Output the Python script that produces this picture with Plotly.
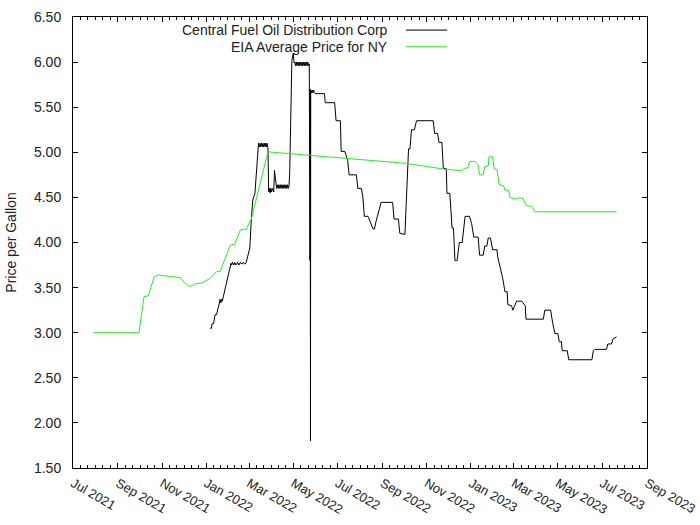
import plotly.graph_objects as go
import pandas as pd
import numpy as np

# ---------------- data ----------------
series_names = ["Central Fuel Oil Distribution Corp", "EIA Average Price for NY"]

cfo_dates = [
    "2022-01-06", "2022-01-08", "2022-01-09", "2022-01-11", "2022-01-13", "2022-01-15",
    "2022-01-19", "2022-01-20", "2022-01-21", "2022-01-22", "2022-01-23", "2022-01-31",
    "2022-02-02", "2022-02-04", "2022-02-05", "2022-02-06", "2022-02-08", "2022-02-09",
    "2022-02-11", "2022-02-13", "2022-02-15", "2022-02-17", "2022-02-19", "2022-02-21",
    "2022-02-23", "2022-02-25", "2022-02-27", "2022-03-02", "2022-03-04", "2022-03-06",
    "2022-03-09", "2022-03-13", "2022-03-14", "2022-03-15", "2022-03-16", "2022-03-17",
    "2022-03-18", "2022-03-19", "2022-03-20", "2022-03-21", "2022-03-22", "2022-03-23",
    "2022-03-24", "2022-03-25", "2022-03-26", "2022-03-27", "2022-03-28",
    "2022-03-29", "2022-03-30", "2022-03-31", "2022-04-01", "2022-04-02", "2022-04-03",
    "2022-04-04", "2022-04-05", "2022-04-07", "2022-04-08", "2022-04-09", "2022-04-10",
    "2022-04-11", "2022-04-12", "2022-04-13", "2022-04-14", "2022-04-15", "2022-04-16",
    "2022-04-17", "2022-04-18", "2022-04-19", "2022-04-20", "2022-04-21", "2022-04-22",
    "2022-04-23", "2022-04-24", "2022-04-25", "2022-04-26", "2022-04-27",
    "2022-04-28", "2022-04-29", "2022-05-01", "2022-05-02", "2022-05-03", "2022-05-04",
    "2022-05-05", "2022-05-06", "2022-05-07", "2022-05-08", "2022-05-09", "2022-05-10",
    "2022-05-11", "2022-05-12", "2022-05-13", "2022-05-14", "2022-05-15", "2022-05-16",
    "2022-05-17", "2022-05-18", "2022-05-19", "2022-05-20", "2022-05-21", "2022-05-22",
    "2022-05-23", "2022-05-24 00:00", "2022-05-24 08:00", "2022-05-24 16:00",
    "2022-05-25", "2022-05-26", "2022-05-27", "2022-05-28", "2022-05-29", "2022-05-30",
    "2022-06-01", "2022-06-13", "2022-06-14", "2022-06-27",
    "2022-06-29", "2022-07-05", "2022-07-06", "2022-07-11", "2022-07-15", "2022-07-17",
    "2022-07-27", "2022-07-29", "2022-08-03", "2022-08-05", "2022-08-07", "2022-08-12",
    "2022-08-14", "2022-08-19", "2022-08-21", "2022-08-23", "2022-08-28", "2022-08-30",
    "2022-09-15", "2022-09-17", "2022-09-23", "2022-09-25", "2022-10-02", "2022-10-04",
    "2022-10-07", "2022-10-09", "2022-10-11", "2022-10-15", "2022-10-18", "2022-11-10",
    "2022-11-12", "2022-11-16", "2022-11-18", "2022-11-22", "2022-11-24", "2022-11-28",
    "2022-11-29", "2022-12-03", "2022-12-06", "2022-12-08", "2022-12-10", "2022-12-13",
    "2022-12-16", "2022-12-20", "2022-12-24", "2022-12-30", "2023-01-02", "2023-01-05",
    "2023-01-11", "2023-01-13", "2023-01-18", "2023-01-20", "2023-01-23", "2023-01-25",
    "2023-01-28", "2023-01-31", "2023-02-06", "2023-02-07", "2023-02-10", "2023-02-12",
    "2023-02-14", "2023-02-17", "2023-02-20", "2023-02-21", "2023-02-26", "2023-02-28",
    "2023-03-03", "2023-03-05", "2023-03-12", "2023-03-17", "2023-03-18", "2023-04-11",
    "2023-04-13", "2023-04-21", "2023-04-24", "2023-04-27", "2023-05-01", "2023-05-03",
    "2023-05-06", "2023-05-07", "2023-05-14", "2023-05-16", "2023-06-17", "2023-06-19",
    "2023-06-21", "2023-07-07", "2023-07-09", "2023-07-14", "2023-07-16", "2023-07-21",
]
cfo_prices = [
    3.05, 3.05, 3.10, 3.10, 3.20, 3.20,
    3.33, 3.37, 3.33, 3.37, 3.35, 3.66,
    3.70, 3.77, 3.75, 3.78, 3.75, 3.78,
    3.75, 3.78, 3.75, 3.78, 3.76, 3.78,
    3.76, 3.78, 3.86, 3.94, 4.25, 4.47,
    4.545, 5.06, 5.10, 5.06, 5.10, 5.06,
    5.10, 5.06, 5.10, 5.06, 5.10, 5.06,
    5.10, 5.06, 5.10, 5.05, 4.56,
    4.60, 4.55, 4.60, 4.56, 4.60, 4.56,
    4.56, 4.80, 4.64, 4.60, 4.64, 4.60,
    4.64, 4.60, 4.64, 4.60, 4.64, 4.60,
    4.64, 4.60, 4.64, 4.60, 4.64, 4.60,
    4.64, 4.60, 4.62, 4.77, 5.17,
    5.60, 6.02, 6.10, 5.99, 6.00, 5.96,
    6.00, 5.96, 6.00, 5.96, 6.00, 5.96,
    6.00, 5.96, 6.00, 5.96, 6.00, 5.96,
    6.00, 5.96, 6.00, 5.96, 6.00, 5.96,
    5.98, 3.80, 5.70, 1.80,
    5.69, 5.66, 5.69, 5.66, 5.69, 5.66,
    5.65, 5.65, 5.55, 5.55,
    5.35, 5.35, 5.01, 5.01, 4.91, 4.75,
    4.75, 4.60, 4.60, 4.50, 4.29, 4.29,
    4.25, 4.15, 4.15, 4.23, 4.38, 4.445,
    4.445, 4.26, 4.26, 4.10, 4.09, 4.42,
    5.04, 5.04, 5.25, 5.25, 5.35, 5.35,
    5.21, 5.21, 5.11, 5.11, 4.82, 4.82,
    4.545, 4.545, 4.16, 4.16, 3.80, 3.80,
    4.00, 4.00, 4.29, 4.29, 4.21, 4.06,
    4.06, 3.86, 3.86, 3.96, 3.96, 4.05,
    4.05, 3.92, 3.92, 3.84, 3.75, 3.68,
    3.60, 3.455, 3.455, 3.31, 3.30, 3.25,
    3.30, 3.35, 3.35, 3.30, 3.15, 3.15,
    3.25, 3.25, 3.10, 2.99, 2.99, 2.90,
    2.90, 2.80, 2.80, 2.70, 2.70, 2.80,
    2.815, 2.815, 2.875, 2.875, 2.93, 2.955,
]

eia_dates = [
    "2021-07-29", "2021-09-30", "2021-10-07", "2021-10-13", "2021-10-21", "2021-10-27",
    "2021-11-05", "2021-11-26", "2021-12-02", "2021-12-09", "2021-12-16", "2021-12-25",
    "2022-01-06", "2022-01-15", "2022-01-20", "2022-02-03", "2022-02-09", "2022-02-17",
    "2022-02-25", "2022-03-04", "2022-03-27", "2022-10-04", "2022-11-24", "2022-12-19",
    "2022-12-23", "2022-12-28", "2022-12-30", "2023-01-06", "2023-01-11", "2023-01-13",
    "2023-01-18", "2023-01-20", "2023-01-25", "2023-01-26", "2023-01-31", "2023-02-02",
    "2023-02-06", "2023-02-09", "2023-02-15", "2023-02-17", "2023-02-22", "2023-02-24",
    "2023-03-03", "2023-03-07", "2023-03-14", "2023-03-17", "2023-03-21", "2023-03-26",
    "2023-03-30", "2023-07-21",
]
eia_prices = [
    3.00, 3.00, 3.40, 3.41, 3.62, 3.64,
    3.63, 3.61, 3.555, 3.51, 3.54, 3.55,
    3.60, 3.676, 3.68, 3.97, 3.98, 4.14,
    4.15, 4.26, 5.005, 4.877, 4.815, 4.796,
    4.82, 4.83, 4.896, 4.90, 4.86, 4.75,
    4.75, 4.84, 4.85, 4.95, 4.95, 4.82,
    4.81, 4.64, 4.63, 4.58, 4.58, 4.50,
    4.48, 4.495, 4.49, 4.42, 4.405, 4.40,
    4.34, 4.34,
]

y_ticks = [1.5, 2.0, 2.5, 3.0, 3.5, 4.0, 4.5, 5.0, 5.5, 6.0, 6.5]
x_start, x_end = "2021-07-01", "2023-09-01"
y_title = "Price per Gallon"

# ---------------- figure ----------------
FONT = "Liberation Sans, Arial, sans-serif"
TXT = "#222222"
colors = ["#000000", "#22ee22"]

fig = go.Figure()
fig.add_trace(go.Scatter(x=pd.to_datetime(cfo_dates, format="ISO8601"), y=cfo_prices,
                         mode="lines", line=dict(color=colors[0], width=1),
                         name=series_names[0], showlegend=False))
fig.add_trace(go.Scatter(x=pd.to_datetime(eia_dates, format="ISO8601"), y=eia_prices,
                         mode="lines", line=dict(color=colors[1], width=1),
                         name=series_names[1], showlegend=False))

# major x ticks every 2 months, minor: 6 subdivisions between majors
majors = pd.date_range(x_start, x_end, freq="2MS")
major_text = [d.strftime("%b %Y") for d in majors]
minor_vals = []
for a, b in zip(majors[:-1], majors[1:]):
    for k in range(1, 6):
        minor_vals.append(a + (b - a) * k / 6)

# legend (gnuplot style: text right-aligned, sample to the right)
leg_y = [0.971, 0.934]
for i, nm in enumerate(series_names):
    fig.add_annotation(x=0.552, y=leg_y[i], xref="paper", yref="paper", text=nm,
                       showarrow=False, xanchor="right", yanchor="middle",
                       font=dict(family=FONT, size=14, color=TXT))
    fig.add_shape(type="line", xref="paper", yref="paper", x0=0.58, x1=0.652,
                  y0=leg_y[i], y1=leg_y[i], line=dict(color=colors[i], width=1))

fig.update_layout(
    width=700, height=525,
    margin=dict(l=73, r=53, t=17, b=57, autoexpand=False),
    paper_bgcolor="white", plot_bgcolor="white",
    font=dict(family=FONT, size=14, color=TXT),
    showlegend=False,
)
fig.update_xaxes(
    type="date", range=[x_start, x_end], automargin=False,
    tickmode="array", tickvals=majors, ticktext=major_text, tickangle=30,
    ticklabeloverflow="allow",
    ticks="inside", ticklen=5, tickcolor="black",
    showline=True, linecolor="black", linewidth=1, mirror="ticks",
    showgrid=False, zeroline=False, ticklabelstandoff=2,
    tickfont=dict(family=FONT, size=13, color=TXT),
    minor=dict(tickmode="array", tickvals=minor_vals, ticks="inside", ticklen=3,
               tickcolor="black", showgrid=False),
)
fig.update_yaxes(
    range=[1.5, 6.5], tickmode="array", tickvals=y_ticks, automargin=False,
    ticktext=[f"{v:.2f}" for v in y_ticks],
    ticks="inside", ticklen=5, tickcolor="black",
    showline=True, linecolor="black", linewidth=1, mirror="ticks",
    showgrid=False, zeroline=False, ticklabelstandoff=8,
    tickfont=dict(family=FONT, size=14, color=TXT),
    title=dict(text=y_title, font=dict(family=FONT, size=14, color=TXT), standoff=14),
)

fig.write_html("out.html")
